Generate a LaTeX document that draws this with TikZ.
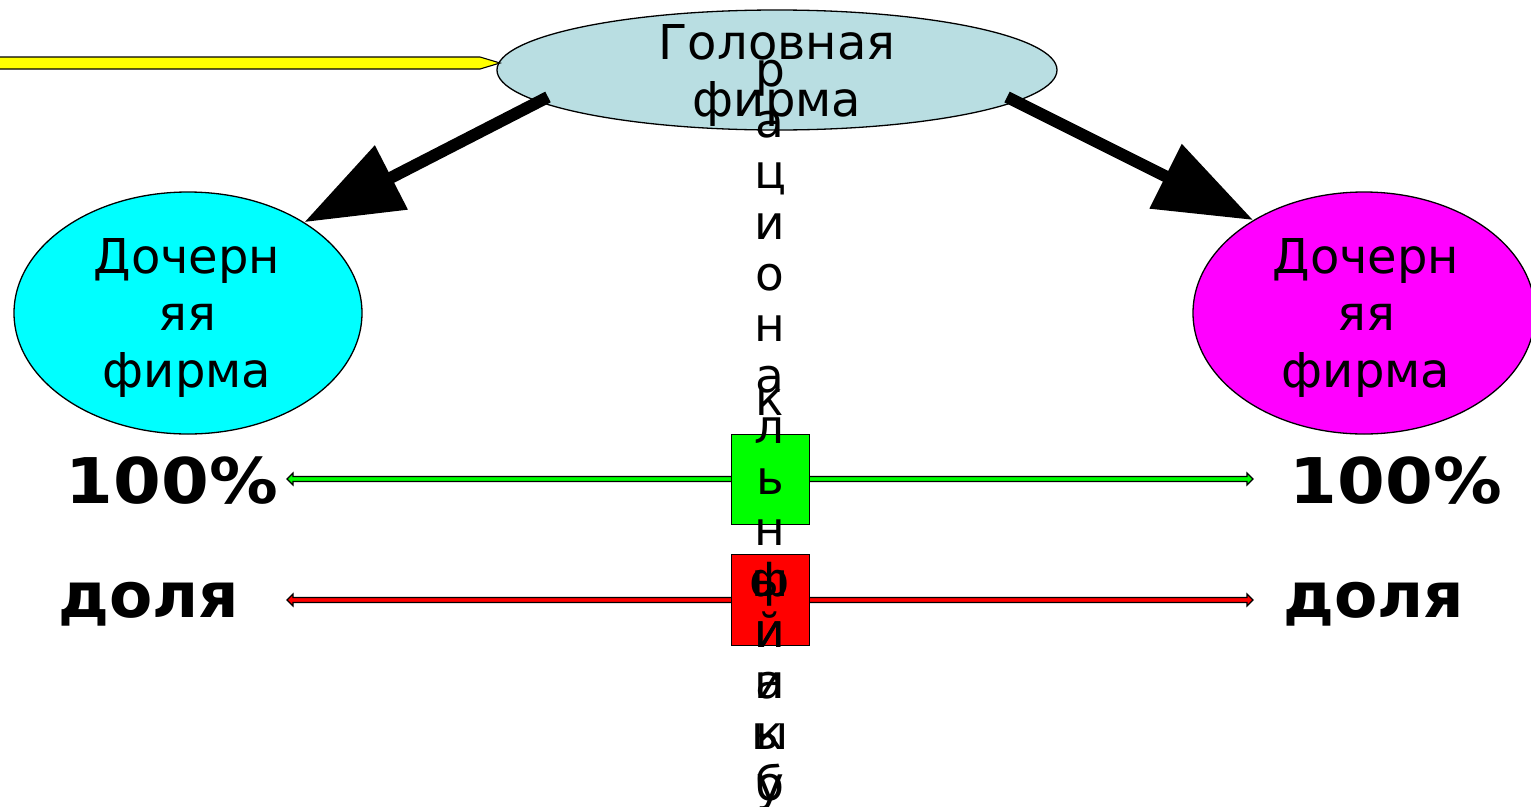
\documentclass[tikz,border=0pt]{standalone}
\usepackage{fontspec}
\setmainfont{DejaVu Sans}
\usetikzlibrary{shapes.geometric,arrows.meta,calc}
\definecolor{headblue}{RGB}{185,222,226}
\definecolor{pgreen}{RGB}{0,255,0}
\definecolor{pred}{RGB}{255,0,0}
\definecolor{pcyan}{RGB}{0,255,255}
\definecolor{pmag}{RGB}{255,0,255}
\definecolor{pyellow}{RGB}{255,255,0}
\begin{document}
\begin{tikzpicture}[x=1pt,y=-1pt,
  ell/.style={ellipse, draw=black, line width=1.3pt, inner sep=0pt},
  etext/.style={align=center, inner sep=0pt, font=\fontsize{48}{57}\selectfont},
  bigarrow/.style={line width=12pt, -{Triangle[length=98pt,width=69pt]}},
  barline/.style={draw=black, line width=1.1pt, line join=miter},
  box/.style={draw=black, line width=1pt, minimum width=78pt, minimum height=90pt, inner sep=0pt},
  vletter/.style={font=\fontsize{47}{47}\selectfont, anchor=base, inner sep=0pt},
  bigword/.style={font=\bfseries\fontsize{63}{63}\selectfont, anchor=base, inner sep=0pt}]
\useasboundingbox (0,0) rectangle (1531,806);

% ellipses
\node[ell, fill=headblue, minimum width=560pt, minimum height=120pt] (head) at (777,70) {};
\node[ell, fill=pcyan, minimum width=348pt, minimum height=242pt] (cl) at (188,313) {};
\node[ell, fill=pmag, minimum width=342pt, minimum height=242pt] (cr) at (1364,313) {};
\node[etext] (headtxt) at (777,75) {Головная\\фирма};
\node[etext] (cltxt) at (187,318) {Дочерн\\яя\\фирма};
\node[etext] (crtxt) at (1366,318) {Дочерн\\яя\\фирма};

% yellow block arrow
\coordinate (yS) at (-5,63);
\draw[barline, fill=pyellow] (yS) ++(0,-6) -- ++(485,0) -- ++(20,6) -- ++(-20,6) -- ++(-485,0) -- cycle;

% big black arrows
\coordinate (aL) at (548,97);
\coordinate (aR) at (1007,97);
\draw[bigarrow] (aL) -- (cl.38.9);
\draw[bigarrow] (aR) -- (cr.140.6);

% green and red double arrows
\coordinate (gL) at (287,479);
\coordinate (gR) at (1253,479);
\coordinate (rL) at (287,600);
\coordinate (rR) at (1253,600);
\draw[barline, fill=pgreen] (gL) -- ++(6,-6) -- ++(0,3.5) -- ($(gR)+(-6,-2.5)$) -- ++(0,-3.5) -- (gR)
  -- ++(-6,6) -- ++(0,-3.5) -- ($(gL)+(6,2.5)$) -- ++(0,3.5) -- cycle;
\draw[barline, fill=pred] (rL) -- ++(6,-6) -- ++(0,3.5) -- ($(rR)+(-6,-2.5)$) -- ++(0,-3.5) -- (rR)
  -- ++(-6,6) -- ++(0,-3.5) -- ($(rL)+(6,2.5)$) -- ++(0,3.5) -- cycle;

\node[box, fill=pgreen] (gb) at (770,479) {};
\node[box, fill=pred, minimum height=91pt] (rb) at (770,599.5) {};

% labels
\node[bigword] (p1) at (172,503) {\scalebox{1.09}[1]{100\%}};
\node[bigword] (p2) at (1396,503) {\scalebox{1.09}[1]{100\%}};
\node[bigword] (d1) at (149,617) {доля};
\node[bigword] (d2) at (1374,617) {доля};

% vertical letters
\foreach \c [count=\i from 0] in {р,а,ц,и,о,н,а,л,ь,н,ы,й,и,ы,б}
  \node[vletter] (v\i) at (770,86+51*\i) {\c};
\foreach \c/\yy [count=\i] in {к/415,ф/596,и/647,а/698,к/749,у/800}
  \node[vletter] (w\i) at (770,\yy) {\c};
\end{tikzpicture}
\end{document}
